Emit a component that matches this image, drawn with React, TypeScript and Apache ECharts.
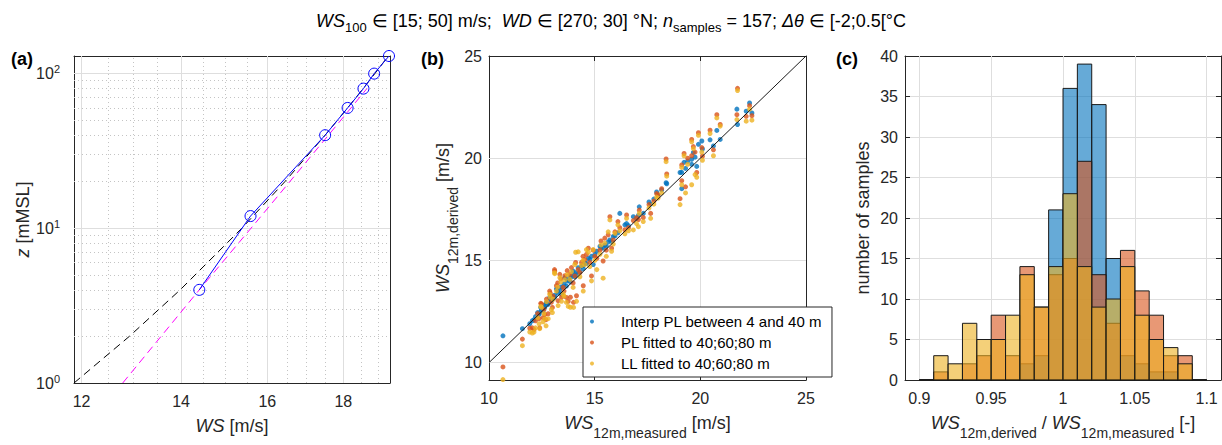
import React, { useEffect, useRef } from 'react';
import * as echarts from 'echarts';

const FONT = '"Liberation Sans", Arial, Helvetica, sans-serif';
const AX = '#262626';
const GRIDC = '#dedede';
const MINORC = '#c4c4c4';
const BLUE = '#0072BD';
const RED = '#D95319';
const YELLOW = '#EDB120';

// ---------- panel (a): vertical profile ----------
const PROFILE_Z = [4, 12, 40, 60, 80, 100, 130];
const PROFILE_WS = [14.4, 15.59, 17.5, 18.12, 18.57, 18.88, 19.32];
const LL_Z = [1, 2, 4, 10, 20, 40, 60, 80, 100, 130];
const LL_WS = [11.86, 12.92, 13.98, 15.38, 16.44, 17.5, 18.12, 18.56, 18.9, 19.3];
const PL_Z = [1, 4, 12, 40, 80];
const PL_WS = [12.79, 14.4, 15.85, 17.59, 18.67];
const A_X_TICKS = [12, 14, 16, 18];
const A_X_MINOR = [12.5, 13, 13.5, 14.5, 15, 15.5, 16.5, 17, 17.5, 18.5, 19];
const A_Y_TICKS = [1, 10, 100];
const A_Y_MINOR = [2, 3, 4, 5, 6, 7, 8, 9, 20, 30, 40, 50, 60, 70, 80, 90];

// ---------- panel (b): derived vs measured ----------
const MEAS = [10.66, 11.58, 11.93, 12.13, 12.37, 12.4, 12.48, 12.56, 12.64, 12.72, 12.8, 12.87, 12.95, 13.03, 13.11, 13.19, 13.27, 13.35, 13.43, 13.51, 13.59, 13.66, 13.82, 13.85, 13.98, 14.06, 14.14, 14.22, 14.3, 14.38, 14.46, 14.53, 14.61, 14.77, 14.85, 14.93, 15.01, 15.25, 15.4, 15.48, 15.64, 15.72, 15.8, 15.88, 15.96, 16.1, 16.19, 16.43, 16.51, 16.83, 16.98, 17.07, 17.11, 17.3, 17.57, 17.65, 17.93, 18.17, 18.38, 18.41, 19.04, 19.12, 19.12, 19.23, 19.59, 19.59, 19.67, 19.83, 19.91, 20.07, 20.46, 20.62, 20.78, 20.94, 21.73, 21.76, 22.17, 22.33, 22.44, 12.3, 12.45, 12.6, 12.7, 12.9, 13.0, 13.1, 13.25, 13.4, 13.55, 13.7, 13.75, 13.9, 14.0, 14.1, 14.45, 14.7, 15.1, 15.3, 15.55, 12.2, 12.05, 16.6, 18.0, 17.8, 19.4, 19.75, 20.1, 19.3];
const DER_INTERP = [11.31, 11.66, 11.9, 12.1, 12.36, 12.45, 12.6, 12.55, 12.7, 12.95, 12.85, 13.19, 13.05, 13.11, 13.3, 13.6, 13.4, 13.55, 13.35, 13.7, 14.16, 13.75, 14.19, 13.95, 14.48, 14.2, 14.3, 14.64, 14.45, 14.72, 14.6, 14.88, 14.85, 15.05, 15.2, 14.8, 15.29, 15.69, 15.6, 15.75, 15.9, 16.0, 15.93, 16.17, 16.2, 16.35, 17.3, 16.74, 16.8, 17.14, 17.05, 17.2, 17.62, 17.3, 17.86, 17.75, 18.35, 18.45, 18.8, 18.75, 19.3, 18.51, 19.31, 19.8, 19.95, 19.7, 20.28, 19.6, 20.68, 20.84, 20.9, 20.6, 21.36, 20.92, 22.4, 21.65, 22.3, 22.7, 22.21, 12.45, 12.7, 12.8, 12.9, 13.1, 13.25, 13.2, 13.5, 13.7, 13.85, 14.0, 14.05, 14.2, 14.3, 14.4, 14.75, 15.1, 15.45, 15.6, 15.7, 12.25, 12.05, 16.7, 18.2, 18.0, 19.85, 20.05, 20.45, 19.5];
const DER_PL = [9.79, 11.15, 11.68, 11.62, 12.15, 11.7, 12.87, 12.2, 12.35, 13.11, 12.39, 13.5, 12.95, 13.25, 14.48, 13.76, 13.03, 14.32, 13.2, 13.68, 14.25, 13.19, 14.32, 13.2, 13.9, 14.24, 13.27, 14.55, 14.4, 14.9, 13.76, 15.05, 15.29, 14.9, 14.24, 15.5, 15.2, 15.5, 14.97, 16.09, 16.25, 17.14, 15.6, 16.0, 16.4, 16.9, 16.6, 16.5, 17.22, 16.95, 17.09, 17.0, 17.46, 17.1, 17.73, 17.3, 18.27, 18.51, 19.96, 19.23, 18.02, 18.9, 19.67, 20.23, 20.92, 20.12, 20.57, 19.3, 21.25, 20.52, 21.37, 20.41, 22.13, 21.65, 22.13, 23.42, 22.05, 22.57, 22.08, 12.4, 12.9, 12.6, 12.1, 13.4, 12.7, 14.55, 13.9, 14.1, 13.5, 14.5, 13.0, 14.65, 12.95, 14.9, 15.2, 15.6, 15.1, 15.95, 15.5, 12.05, 11.7, 16.6, 18.2, 17.9, 20.0, 20.3, 20.1, 18.6];
const DER_LL = [9.17, 10.83, 11.5, 11.5, 11.9, 11.66, 12.71, 12.0, 12.15, 12.98, 12.15, 13.35, 12.6, 13.1, 14.35, 13.5, 12.79, 14.16, 13.0, 13.35, 14.05, 12.95, 14.08, 12.71, 13.68, 14.8, 13.0, 15.42, 14.2, 14.75, 13.5, 14.8, 15.53, 14.7, 14.0, 15.53, 15.0, 15.3, 14.13, 15.85, 16.4, 16.98, 15.45, 15.8, 16.33, 16.74, 16.45, 16.3, 17.06, 16.49, 16.8, 16.65, 17.3, 16.9, 17.57, 17.06, 18.1, 18.3, 19.83, 19.12, 17.73, 18.7, 19.55, 20.12, 20.8, 18.7, 20.47, 19.07, 21.12, 20.3, 21.21, 20.12, 21.97, 21.57, 21.89, 23.31, 21.81, 22.4, 21.86, 12.2, 12.75, 12.4, 11.8, 13.2, 12.45, 14.4, 13.7, 13.95, 13.25, 14.3, 12.75, 14.45, 12.7, 15.4, 15.0, 15.4, 14.55, 15.75, 15.2, 11.7, 11.45, 16.45, 18.05, 17.75, 19.7, 19.2, 19.9, 18.3];
const B_TICKS = [10, 15, 20, 25];
const B_Y_GRID = [10, 15, 20];

// ---------- panel (c): histogram of ratios ----------
const BIN_EDGES = [0.9, 0.91, 0.92, 0.93, 0.94, 0.95, 0.96, 0.97, 0.98, 0.99, 1.0, 1.01, 1.02, 1.03, 1.04, 1.05, 1.06, 1.07, 1.08, 1.09, 1.1];
const HIST_INTERP = [0, 0, 0, 0, 0, 0, 0, 2, 3, 21, 36, 39, 34, 15, 3, 2, 1, 1, 0, 0];
const HIST_PL = [0, 1, 0, 2, 3, 8, 3, 14, 9, 13, 15, 27, 13, 7, 16, 11, 8, 3, 3, 0];
const HIST_LL = [0, 3, 2, 7, 5, 5, 8, 13, 9, 14, 23, 14, 9, 10, 14, 8, 5, 4, 2, 0];
const C_X_TICKS = [0.9, 0.95, 1, 1.05, 1.1];

const NAMES = ['Interp PL between 4 and 40 m', 'PL fitted to 40;60;80 m', 'LL fitted to 40;60;80 m'];

const nameRich: any = {
  w: { fontFamily: FONT, fontSize: 18, fontStyle: 'italic', color: AX, lineHeight: 34 },
  t: { fontFamily: FONT, fontSize: 18, color: AX, lineHeight: 34 },
  s: { fontFamily: FONT, fontSize: 14, color: AX, lineHeight: 14, verticalAlign: 'bottom' },
};

const axLine = { show: true, onZero: false, lineStyle: { color: AX, width: 1 } };
const tickStyle = { show: true, inside: true, length: 5, lineStyle: { color: AX, width: 1 } };
const labStyle = { fontFamily: FONT, fontSize: 16, color: AX };

function mkAxis(gi: number, pos: string, scale: any, opt: any, primary: boolean) {
  const ax: any = {
    gridIndex: gi,
    position: pos,
    ...scale,
    axisLine: axLine,
    axisTick: { ...tickStyle, ...(opt.ticks ? { customValues: opt.ticks } : {}) },
    axisLabel: primary
      ? {
          ...labStyle,
          margin: opt.margin,
          ...(opt.ticks ? { customValues: opt.ticks } : {}),
          ...(opt.fmt ? { formatter: opt.fmt } : {}),
          ...(opt.rich ? { rich: opt.rich } : {}),
        }
      : { show: false },
    splitLine: { show: !!opt.split && primary, lineStyle: { color: GRIDC, width: 1 } },
  };
  if (primary && opt.name) {
    ax.name = opt.name;
    ax.nameLocation = 'middle';
    ax.nameGap = opt.nameGap;
    ax.nameTextStyle = { fontFamily: FONT, fontSize: 18, color: AX, rich: nameRich };
  }
  return ax;
}

function gridLines(values: number[], dim: 'xAxis' | 'yAxis', dotted: boolean) {
  return values.map((v) => ({
    [dim]: v,
    lineStyle: { color: dotted ? MINORC : GRIDC, width: 1, type: dotted ? [1, 3] : 'solid' },
  }));
}

function markLines(data: any[]) {
  return {
    silent: true,
    symbol: ['none', 'none'],
    label: { show: false },
    emphasis: { disabled: true },
    animation: false,
    z: 1,
    data,
  };
}

function histSeries(name: string, counts: number[], color: string) {
  const data = counts.map((c, i) => [BIN_EDGES[i], BIN_EDGES[i + 1], c]);
  return {
    type: 'custom',
    name,
    xAxisIndex: 4,
    yAxisIndex: 4,
    z: 3,
    encode: { x: [0, 1], y: 2 },
    data,
    renderItem: (params: any, api: any) => {
      const p0 = api.coord([api.value(0), api.value(2)]);
      const p1 = api.coord([api.value(1), 0]);
      return {
        type: 'rect',
        shape: { x: p0[0], y: p0[1], width: p1[0] - p0[0], height: p1[1] - p0[1] },
        style: { fill: color, opacity: 1, stroke: '#1a1a1a', lineWidth: 1 },
      };
    },
  };
}

function rgba(hex: string, a: number) {
  const n = parseInt(hex.slice(1), 16);
  return `rgba(${(n >> 16) & 255},${(n >> 8) & 255},${n & 255},${a})`;
}

export default function App() {
  const ref = useRef<HTMLDivElement>(null);
  useEffect(() => {
    if (!ref.current) return;
    const chart = echarts.init(ref.current, undefined, { renderer: 'svg' });

    const aX = { type: 'log', logBase: 10, min: 11.86, max: 19.35 };
    const aY = { type: 'log', logBase: 10, min: 1, max: 130 };
    const bX = { type: 'value', min: 10, max: 25, interval: 5 };
    const bY = { type: 'value', min: 9.15, max: 25 };
    const cX = { type: 'value', min: 0.89, max: 1.11 };
    const cY = { type: 'value', min: 0, max: 40, interval: 5 };

    const option: any = {
      animation: false,
      backgroundColor: '#ffffff',
      title: {
        text:
          '{i|WS}{s|100}{t| \u2208 [15; 50] m/s;  }{i|WD}{t| \u2208 [270; 30] \u00B0N; }{i|n}{s|samples}{t| = 157; }{i|\u0394\u03B8}{t| \u2208 [-2;0.5[\u00B0C}',
        left: 'center',
        top: 3,
        textStyle: {
          fontWeight: 'normal',
          rich: {
            i: { fontFamily: FONT, fontSize: 18, fontStyle: 'italic', fontWeight: 'normal', color: '#000', lineHeight: 26 },
            t: { fontFamily: FONT, fontSize: 18, fontWeight: 'normal', color: '#000', lineHeight: 26 },
            s: { fontFamily: FONT, fontSize: 13, fontWeight: 'normal', color: '#000', lineHeight: 13, verticalAlign: 'bottom' },
          },
        },
      },
      grid: [
        { left: 74, top: 56, width: 316, height: 327 },
        { left: 489, top: 56, width: 317, height: 327 },
        { left: 905, top: 56, width: 316, height: 327 },
      ],
      xAxis: [
        mkAxis(0, 'bottom', aX, {
          ticks: A_X_TICKS, margin: 10, fmt: (v: number) => String(Math.round(v * 100) / 100),
          name: '{w|WS}{t| [m/s]}', nameGap: 26,
        }, true),
        mkAxis(0, 'top', aX, { ticks: A_X_TICKS }, false),
        mkAxis(1, 'bottom', bX, { margin: 10, split: true, name: '{w|WS}{s|12m,measured}{t| [m/s]}', nameGap: 26 }, true),
        mkAxis(1, 'top', bX, {}, false),
        mkAxis(2, 'bottom', cX, { ticks: C_X_TICKS, margin: 10, name: '{w|WS}{s|12m,derived}{t| / }{w|WS}{s|12m,measured}{t| [-]}', nameGap: 26 }, true),
        mkAxis(2, 'top', cX, { ticks: C_X_TICKS }, false),
      ],
      yAxis: [
        mkAxis(0, 'left', aY, {
          ticks: A_Y_TICKS, margin: 14,
          fmt: (v: number) => `{b|10}{p|${Math.round(Math.log10(v))}}`,
          rich: {
            b: { fontFamily: FONT, fontSize: 16, color: AX, lineHeight: 20 },
            p: { fontFamily: FONT, fontSize: 11, color: AX, lineHeight: 11, verticalAlign: 'top' },
          },
          name: '{w|z}{t| [mMSL]}', nameGap: 31,
        }, true),
        mkAxis(0, 'right', aY, { ticks: A_Y_TICKS }, false),
        mkAxis(1, 'left', bY, { ticks: B_TICKS, margin: 7, name: '{w|WS}{s|12m,derived}{t| [m/s]}', nameGap: 29 }, true),
        mkAxis(1, 'right', bY, { ticks: B_TICKS }, false),
        mkAxis(2, 'left', cY, { margin: 7, split: true, name: '{t|number of samples}', nameGap: 25 }, true),
        mkAxis(2, 'right', cY, {}, false),
      ],
      legend: {
        show: true,
        left: 583,
        top: 307,
        orient: 'vertical',
        padding: [4, 10, 3, 7],
        backgroundColor: '#ffffff',
        borderColor: AX,
        borderWidth: 1,
        borderRadius: 0,
        itemWidth: 48,
        itemHeight: 4,
        itemGap: 0,
        icon: 'circle',
        selectedMode: false,
        textStyle: { fontFamily: FONT, fontSize: 15, color: '#000', lineHeight: 21 },
        data: NAMES,
      },
      graphic: [
        { type: 'text', x: 11, y: 59, style: { text: '(a)', fontFamily: FONT, fontSize: 18, fontWeight: 'bold', fill: '#000', verticalAlign: 'middle' } },
        { type: 'text', x: 421, y: 59, style: { text: '(b)', fontFamily: FONT, fontSize: 18, fontWeight: 'bold', fill: '#000', verticalAlign: 'middle' } },
        { type: 'text', x: 836, y: 59, style: { text: '(c)', fontFamily: FONT, fontSize: 18, fontWeight: 'bold', fill: '#000', verticalAlign: 'middle' } },
      ],
      series: [
        // panel (a) grid lines
        {
          type: 'line', xAxisIndex: 0, yAxisIndex: 0, data: [[15, 10]], showSymbol: false, silent: true,
          lineStyle: { opacity: 0 }, z: 0,
          markLine: markLines([
            ...gridLines(A_X_TICKS, 'xAxis', false),
            ...gridLines(A_Y_TICKS.slice(1), 'yAxis', false),
            ...gridLines(A_X_MINOR, 'xAxis', true),
            ...gridLines(A_Y_MINOR, 'yAxis', true),
          ]),
        },
        {
          type: 'line', xAxisIndex: 0, yAxisIndex: 0, z: 3, symbol: 'none', silent: true,
          data: LL_Z.map((z, i) => [LL_WS[i], z]),
          lineStyle: { color: '#000000', width: 1, type: [8, 5] },
        },
        {
          type: 'line', xAxisIndex: 0, yAxisIndex: 0, z: 3, symbol: 'none', silent: true,
          data: PL_Z.map((z, i) => [PL_WS[i], z]),
          lineStyle: { color: '#FF00FF', width: 1, type: [8, 5] },
        },
        {
          type: 'line', xAxisIndex: 0, yAxisIndex: 0, z: 4, silent: true,
          data: PROFILE_Z.map((z, i) => [PROFILE_WS[i], z]),
          symbol: 'circle', symbolSize: 11, showSymbol: true,
          lineStyle: { color: '#0000FF', width: 1 },
          itemStyle: { color: 'rgba(0,0,0,0)', borderColor: '#0000FF', borderWidth: 1 },
        },
        // panel (b)
        {
          name: NAMES[0], type: 'scatter', xAxisIndex: 2, yAxisIndex: 2, z: 3, symbolSize: 5, silent: true,
          data: MEAS.map((m, i) => [m, DER_INTERP[i]]), itemStyle: { color: BLUE },
          markLine: markLines(gridLines(B_Y_GRID, 'yAxis', false)),
        },
        {
          name: NAMES[1], type: 'scatter', xAxisIndex: 2, yAxisIndex: 2, z: 3, symbolSize: 5, silent: true,
          data: MEAS.map((m, i) => [m, DER_PL[i]]), itemStyle: { color: RED },
        },
        {
          name: NAMES[2], type: 'scatter', xAxisIndex: 2, yAxisIndex: 2, z: 3, symbolSize: 5, silent: true,
          data: MEAS.map((m, i) => [m, DER_LL[i]]), itemStyle: { color: YELLOW },
        },
        {
          type: 'line', xAxisIndex: 2, yAxisIndex: 2, z: 5, symbol: 'none', silent: true,
          data: [[10, 10], [25, 25]], lineStyle: { color: '#1a1a1a', width: 1 },
        },
        // panel (c)
        {
          type: 'line', xAxisIndex: 4, yAxisIndex: 4, data: [[1, -5]], showSymbol: false, silent: true,
          lineStyle: { opacity: 0 }, z: 0,
          markLine: markLines(gridLines(C_X_TICKS, 'xAxis', false)),
        },
        histSeries(NAMES[0] + ' hist', HIST_INTERP, rgba(BLUE, 0.6)),
        histSeries(NAMES[1] + ' hist', HIST_PL, rgba(RED, 0.6)),
        histSeries(NAMES[2] + ' hist', HIST_LL, rgba(YELLOW, 0.6)),
      ],
    };
    chart.setOption(option);
    return () => chart.dispose();
  }, []);
  return (
    <div
      ref={ref}
      style={{ position: 'fixed', left: 0, top: 0, width: 1222, height: 445, background: '#fff' }}
    />
  );
}
